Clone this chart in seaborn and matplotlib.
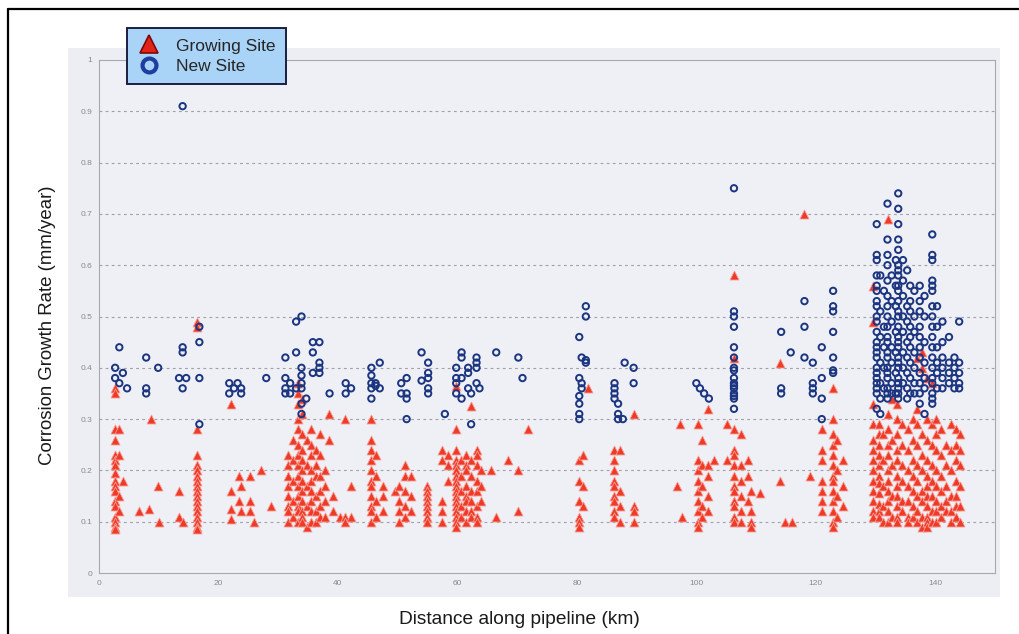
import matplotlib
matplotlib.use('Agg')
import matplotlib.pyplot as plt
from matplotlib.patches import Rectangle
from matplotlib.lines import Line2D
import seaborn as sns
import pandas as pd


# (distance km, [growth rates mm/year])
growing_cols = [
    (2.7, [0.36, 0.35, 0.28, 0.26, 0.23, 0.22, 0.21, 0.195, 0.18, 0.17, 0.16, 0.14, 0.13, 0.11, 0.10, 0.09, 0.085]),
    (3.4, [0.28, 0.23, 0.15, 0.12]),
    (4.0, [0.18]),
    (6.7, [0.12]), (8.3, [0.125]), (8.7, [0.30]), (9.9, [0.17]), (10.1, [0.10]),
    (13.4, [0.16, 0.11]), (14.0, [0.10]),
    (16.4, [0.49, 0.48, 0.28, 0.23, 0.21, 0.20, 0.19, 0.18, 0.17, 0.16, 0.15, 0.14, 0.13, 0.12, 0.11, 0.10, 0.09, 0.085]),
    (22.1, [0.33, 0.16, 0.125, 0.105]), (23.5, [0.19, 0.14]), (23.8, [0.17, 0.12]),
    (25.2, [0.19, 0.14, 0.12]), (25.9, [0.10]), (27.2, [0.20]), (28.8, [0.13]),
    (31.6, [0.23, 0.21, 0.19, 0.17, 0.15, 0.13, 0.12, 0.10]),
    (32.5, [0.26, 0.22, 0.18, 0.14, 0.11]),
    (33.3, [0.37, 0.35, 0.33, 0.30, 0.28, 0.25, 0.23, 0.21, 0.19, 0.17, 0.15, 0.13, 0.12, 0.10]),
    (34.0, [0.34, 0.31, 0.27, 0.24, 0.22, 0.20, 0.18, 0.16, 0.14, 0.12, 0.11, 0.10]),
    (34.8, [0.26, 0.21, 0.17, 0.13, 0.09]),
    (35.5, [0.28, 0.25, 0.23, 0.20, 0.18, 0.16, 0.14, 0.12, 0.10]),
    (36.3, [0.24, 0.21, 0.19, 0.15, 0.12, 0.10]),
    (37.0, [0.27, 0.23, 0.19, 0.16, 0.13, 0.11]),
    (37.8, [0.20, 0.17, 0.14, 0.11]),
    (38.5, [0.31, 0.26]), (39.2, [0.15, 0.12]), (40.3, [0.11]),
    (41.2, [0.30, 0.11, 0.10]), (42.2, [0.17, 0.11]),
    (45.5, [0.30, 0.26, 0.24, 0.22, 0.20, 0.18, 0.17, 0.15, 0.13, 0.12, 0.10]),
    (46.3, [0.23, 0.19, 0.14, 0.11]), (47.5, [0.17, 0.15, 0.12]),
    (49.6, [0.16]), (50.3, [0.17, 0.14, 0.12, 0.10]),
    (51.3, [0.21, 0.19, 0.16, 0.13, 0.11]), (52.3, [0.19, 0.15, 0.12]),
    (54.9, [0.17, 0.16, 0.15, 0.14, 0.13, 0.12, 0.11, 0.10]),
    (57.4, [0.24, 0.22, 0.14, 0.12, 0.10]), (58.5, [0.23, 0.21, 0.18]),
    (59.8, [0.365, 0.28, 0.24, 0.22, 0.21, 0.20, 0.19, 0.18, 0.17, 0.16, 0.15, 0.14, 0.13, 0.12, 0.11, 0.10, 0.09]),
    (60.6, [0.22, 0.19, 0.16, 0.13, 0.11]),
    (61.4, [0.23, 0.21, 0.20, 0.17, 0.15, 0.14, 0.12, 0.10]),
    (62.3, [0.325, 0.22, 0.19, 0.16, 0.14, 0.12, 0.11]),
    (63.2, [0.24, 0.23, 0.21, 0.18, 0.16, 0.13, 0.11, 0.10]),
    (64.0, [0.20, 0.17, 0.14]),
    (65.7, [0.20]), (66.5, [0.11]), (68.4, [0.22]), (70.2, [0.20, 0.12]), (71.8, [0.28]),
    (80.3, [0.22, 0.18, 0.14, 0.11, 0.10, 0.09]), (81.0, [0.23, 0.17, 0.13]), (81.8, [0.36]),
    (86.3, [0.24, 0.22, 0.20, 0.18, 0.17, 0.15, 0.14, 0.12, 0.11]),
    (87.3, [0.24, 0.16, 0.13, 0.10]), (89.6, [0.31, 0.13, 0.12, 0.10]),
    (96.7, [0.17]), (97.3, [0.29]), (97.6, [0.11]),
    (100.2, [0.29, 0.22, 0.20, 0.18, 0.16, 0.14, 0.12, 0.10, 0.09]),
    (101.0, [0.26, 0.21, 0.17, 0.13, 0.11]), (102.0, [0.32, 0.21, 0.19, 0.15, 0.12]), (103.0, [0.22]),
    (105.2, [0.29, 0.22]),
    (106.3, [0.58, 0.42, 0.28, 0.24, 0.23, 0.21, 0.19, 0.17, 0.16, 0.14, 0.13, 0.11, 0.10]),
    (107.4, [0.27, 0.21, 0.18, 0.15, 0.12, 0.10]), (108.6, [0.22, 0.19, 0.14]),
    (109.2, [0.16, 0.12, 0.10, 0.09]), (110.6, [0.155]),
    (114.0, [0.41, 0.18]), (114.8, [0.10]), (116.0, [0.10]), (118.1, [0.70]), (119.0, [0.19]),
    (121.0, [0.28, 0.24, 0.22, 0.18, 0.16, 0.14, 0.12]),
    (122.9, [0.36, 0.30, 0.27, 0.25, 0.23, 0.21, 0.19, 0.18, 0.16, 0.14, 0.12, 0.10, 0.09]),
    (123.6, [0.26, 0.20, 0.15, 0.11]), (124.5, [0.22, 0.17, 0.13]),
    (129.6, [0.56, 0.49, 0.33, 0.29, 0.26, 0.24, 0.22, 0.20, 0.18, 0.16, 0.14, 0.12, 0.11]),
    (130.5, [0.29, 0.27, 0.25, 0.23, 0.21, 0.19, 0.175, 0.155, 0.135, 0.12, 0.11]),
    (131.3, [0.27, 0.22, 0.17, 0.13, 0.10]),
    (132.1, [0.69, 0.31, 0.28, 0.25, 0.23, 0.20, 0.18, 0.16, 0.14, 0.12, 0.10]),
    (132.8, [0.34, 0.26, 0.21, 0.15, 0.11]),
    (133.6, [0.33, 0.30, 0.27, 0.24, 0.22, 0.19, 0.17, 0.15, 0.13, 0.11, 0.10]),
    (134.4, [0.29, 0.25, 0.21, 0.18, 0.14, 0.12]),
    (135.4, [0.28, 0.24, 0.20, 0.17, 0.14, 0.11, 0.10]),
    (136.2, [0.30, 0.26, 0.22, 0.19, 0.16, 0.13, 0.11]),
    (137.0, [0.42, 0.32, 0.29, 0.25, 0.21, 0.18, 0.15, 0.12, 0.10]),
    (137.8, [0.43, 0.40, 0.27, 0.23, 0.20, 0.16, 0.14, 0.11, 0.09]),
    (138.6, [0.38, 0.30, 0.26, 0.22, 0.19, 0.17, 0.15, 0.13, 0.11, 0.10, 0.09]),
    (139.4, [0.37, 0.29, 0.25, 0.21, 0.18, 0.15, 0.12, 0.10]),
    (140.2, [0.30, 0.27, 0.24, 0.20, 0.17, 0.14, 0.12, 0.10]),
    (141.0, [0.28, 0.23, 0.19, 0.16, 0.13, 0.11]),
    (141.8, [0.25, 0.21, 0.17, 0.14, 0.12]),
    (142.6, [0.29, 0.24, 0.20, 0.15, 0.12, 0.10]),
    (143.4, [0.28, 0.25, 0.22, 0.18, 0.15, 0.13, 0.11]),
    (144.2, [0.27, 0.24, 0.21, 0.17, 0.13, 0.10]),
]

new_cols = [
    (2.7, [0.40, 0.38]), (3.4, [0.44, 0.37]), (4.0, [0.39]), (4.7, [0.36]),
    (7.9, [0.42, 0.36, 0.35]), (9.9, [0.40]),
    (13.4, [0.38]), (14.0, [0.91, 0.44, 0.43, 0.36]), (14.6, [0.38]),
    (16.8, [0.48, 0.45, 0.38, 0.29]),
    (21.8, [0.37, 0.35]), (22.6, [0.36]), (23.2, [0.37]), (23.8, [0.36, 0.35]),
    (28.0, [0.38]),
    (31.2, [0.42, 0.38, 0.36, 0.35]), (32.0, [0.37, 0.35]),
    (33.0, [0.49, 0.43, 0.36]), (33.9, [0.50, 0.40, 0.385, 0.37, 0.36, 0.33, 0.31]),
    (34.7, [0.34]), (35.8, [0.45, 0.43, 0.39]), (36.9, [0.45, 0.41, 0.40, 0.39]),
    (38.6, [0.35]), (41.3, [0.37, 0.35]), (42.2, [0.36]),
    (45.6, [0.40, 0.385, 0.37, 0.36, 0.34]), (46.3, [0.365, 0.37]), (47.0, [0.41, 0.36]),
    (50.6, [0.37, 0.35]), (51.5, [0.38, 0.35, 0.34, 0.30]),
    (54.0, [0.43, 0.375]), (55.1, [0.41, 0.39, 0.38, 0.36, 0.35]), (57.9, [0.31]),
    (59.8, [0.40, 0.38, 0.37, 0.35]), (60.7, [0.43, 0.42, 0.38, 0.34]),
    (61.8, [0.40, 0.39, 0.36]), (62.3, [0.35, 0.29]), (63.2, [0.42, 0.41, 0.40, 0.37]),
    (63.7, [0.36]), (66.5, [0.43]), (70.2, [0.42]), (70.9, [0.38]),
    (80.4, [0.46, 0.38, 0.345, 0.33, 0.31, 0.30]), (80.8, [0.42, 0.37, 0.36]),
    (81.5, [0.52, 0.50, 0.415, 0.41]),
    (86.3, [0.37, 0.36, 0.35, 0.34]), (86.9, [0.33, 0.31, 0.30]), (87.7, [0.30]),
    (88.0, [0.41]), (89.5, [0.40, 0.37]),
    (100.0, [0.37]), (100.6, [0.36]), (101.3, [0.35]), (102.1, [0.34]),
    (106.3, [0.75, 0.51, 0.50, 0.48, 0.44, 0.42, 0.40, 0.395, 0.38, 0.37, 0.365, 0.36, 0.35, 0.345, 0.34, 0.32]),
    (114.2, [0.47, 0.36, 0.35]), (115.8, [0.43]), (118.1, [0.53, 0.48, 0.42]),
    (119.5, [0.41, 0.37, 0.36, 0.35]), (121.0, [0.44, 0.38, 0.34, 0.30]),
    (122.9, [0.55, 0.52, 0.51, 0.47, 0.42, 0.395, 0.39]),
    (130.2, [0.68, 0.62, 0.61, 0.58, 0.56, 0.55, 0.53, 0.52, 0.50, 0.49, 0.47, 0.45, 0.44, 0.43, 0.42, 0.40, 0.39, 0.38, 0.37, 0.36, 0.35, 0.32]),
    (130.8, [0.58, 0.51, 0.46, 0.41, 0.37, 0.34, 0.31]),
    (131.4, [0.55, 0.48, 0.44, 0.40, 0.36]),
    (132.0, [0.72, 0.65, 0.62, 0.60, 0.57, 0.54, 0.52, 0.50, 0.48, 0.46, 0.45, 0.43, 0.42, 0.40, 0.39, 0.38, 0.36, 0.35, 0.34]),
    (132.7, [0.58, 0.53, 0.49, 0.44, 0.41, 0.37, 0.35]),
    (133.4, [0.61, 0.56, 0.52, 0.47, 0.43, 0.39, 0.35]),
    (133.8, [0.74, 0.71, 0.68, 0.65, 0.63, 0.60, 0.59, 0.58, 0.56, 0.55, 0.53, 0.51, 0.50, 0.48, 0.46, 0.45, 0.44, 0.42, 0.41, 0.40, 0.38, 0.37, 0.36, 0.35, 0.34]),
    (134.6, [0.61, 0.57, 0.54, 0.50, 0.47, 0.43, 0.40, 0.37]),
    (135.3, [0.59, 0.52, 0.49, 0.45, 0.42, 0.39, 0.36, 0.34]),
    (135.8, [0.56, 0.53, 0.51, 0.48, 0.46, 0.44, 0.41, 0.38, 0.35]),
    (136.5, [0.55, 0.50, 0.47, 0.43, 0.40, 0.37, 0.35]),
    (137.4, [0.56, 0.53, 0.51, 0.48, 0.46, 0.44, 0.42, 0.39, 0.37, 0.35, 0.33]),
    (138.2, [0.54, 0.50, 0.45, 0.41, 0.38, 0.36, 0.31]),
    (139.5, [0.66, 0.62, 0.61, 0.57, 0.56, 0.55, 0.52, 0.50, 0.48, 0.46, 0.44, 0.42, 0.40, 0.38, 0.37, 0.35, 0.34, 0.33]),
    (140.3, [0.52, 0.48, 0.44, 0.41, 0.39, 0.36]),
    (141.2, [0.49, 0.45, 0.42, 0.40, 0.38, 0.36]),
    (142.3, [0.46, 0.41, 0.39, 0.37]),
    (143.2, [0.42, 0.40, 0.38, 0.36]),
    (144.0, [0.49, 0.41, 0.39, 0.37, 0.36]),
]

x_ticks = [0, 20, 40, 60, 80, 100, 120, 140]
y_ticks = [0, 0.1, 0.2, 0.3, 0.4, 0.5, 0.6, 0.7, 0.8, 0.9, 1]
y_tick_labels = ['0', '0.1', '0.2', '0.3', '0.4', '0.5', '0.6', '0.7', '0.8', '0.9', '1']


def expand(cols):
    xs, ys = [], []
    for x, vals in cols:
        for v in vals:
            xs.append(x)
            ys.append(v)
    return pd.DataFrame({'km': xs, 'rate': ys})


growing = expand(growing_cols)
new = expand(new_cols)

sns.set_style('white')
plt.rcParams['font.family'] = ['Liberation Sans', 'DejaVu Sans']

W, H = 1019, 634
fig = plt.figure(figsize=(W / 100, H / 100), dpi=100)

# scanned-page grey panel behind the axes
fig.patches.append(Rectangle((68 / W, 1 - 597 / H), (1000 - 68) / W, (597 - 48) / H,
                             transform=fig.transFigure, facecolor='#eceef4',
                             edgecolor='none', zorder=-5))
# black frame of the page
fig.add_artist(Line2D([8 / W, 1], [1 - 9 / H, 1 - 9 / H], color='black', lw=1.6))
fig.add_artist(Line2D([8 / W, 8 / W], [0, 1 - 9 / H], color='black', lw=1.6))

ax = fig.add_axes([99 / W, 1 - 573 / H, (995 - 99) / W, (573 - 60) / H])
ax.set_facecolor('#eef0f6')

sns.scatterplot(data=growing, x='km', y='rate', marker='^', s=42,
                color='#f03a28', edgecolor='#f5a096', linewidth=0.6,
                label='Growing Site', ax=ax, zorder=3)
sns.scatterplot(data=new, x='km', y='rate', marker='o', s=21,
                facecolor='none', edgecolor='#1b3580', linewidth=1.4,
                label='New Site', ax=ax, zorder=4)

ax.set_xlim(0, 150)
ax.set_ylim(0, 1)
ax.set_xticks(x_ticks)
ax.set_yticks(y_ticks)
ax.set_yticklabels(y_tick_labels)
ax.tick_params(labelsize=6, colors='#8a8a90', length=2, width=0.6, pad=3)
for sp in ax.spines.values():
    sp.set_color('#a8a8b0')
    sp.set_linewidth(0.8)
for yv in y_ticks[1:-1]:
    ax.axhline(yv, color='#a0a0a8', lw=0.8, ls=(0, (2.5, 3)), zorder=1)

ax.set_xlabel('')
ax.set_ylabel('')
fig.text(48 / W, 1 - 325 / H, 'Corrosion Growth Rate (mm/year)', rotation=90,
         ha='center', va='center', fontsize=13.4, color='#1a1a1a')
fig.text(519 / W, 1 - 620 / H, 'Distance along pipeline (km)',
         ha='center', va='center', fontsize=13.8, color='#1a1a1a')

handles = [
    Line2D([], [], marker='^', ls='none', markersize=13, markerfacecolor='#e3231a',
           markeredgecolor='#7a0a0a', markeredgewidth=1.2),
    Line2D([], [], marker='o', ls='none', markersize=10, markerfacecolor='none',
           markeredgecolor='#1d3fa0', markeredgewidth=3),
]
leg = ax.legend(handles, ['Growing Site', 'New Site'], loc='upper left',
                bbox_to_anchor=(127 / W, 1 - 28 / H), bbox_transform=fig.transFigure,
                fontsize=12.5, frameon=True, fancybox=False, framealpha=1,
                facecolor='#a9d3f7', edgecolor='#1a1f40', borderpad=0.6,
                labelspacing=0.3, handlelength=1.3, handletextpad=0.9,
                borderaxespad=0)
leg.get_frame().set_linewidth(1.4)
leg.set_zorder(10)

fig.savefig('out.png', dpi=100)
